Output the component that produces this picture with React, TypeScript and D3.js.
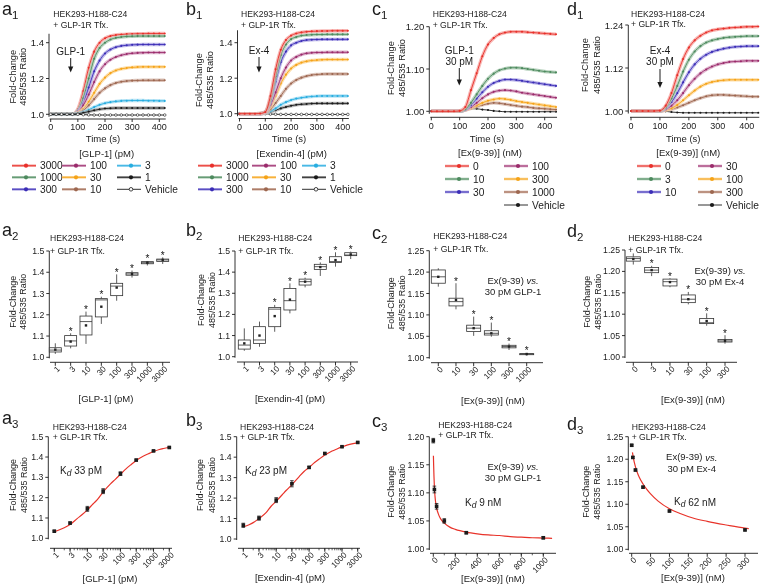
import React from "react";
import * as d3 from "d3";

const FONT = "'Liberation Sans', Arial, Helvetica, sans-serif";
const INK = "#1b1b1b";
const FIT = "#e8332a";

// ---------------- Row 1: kinetic traces ----------------
const timesAB = [0, 20, 40, 60, 80, 100, 120, 140, 160, 180, 200, 220, 240, 260, 280, 300, 320, 340, 360, 380, 400, 420];
const timesCD = [0, 20, 40, 60, 80, 100, 120, 140, 160, 180, 200, 220, 240, 260, 280, 300, 320, 340, 360, 380, 400, 420, 440];

const abDoses = ["3000", "1000", "300", "100", "30", "10", "3", "1", "Vehicle"];
const a1_3000 = [1, 1, 1, 1, 1.001, 1.03, 1.13, 1.26, 1.35, 1.4, 1.425, 1.437, 1.443, 1.446, 1.448, 1.449, 1.45, 1.45, 1.451, 1.451, 1.451, 1.451];
const a1_1000 = [1, 1, 1, 1, 1.001, 1.02, 1.09, 1.2, 1.31, 1.37, 1.4, 1.418, 1.427, 1.432, 1.435, 1.436, 1.437, 1.437, 1.437, 1.437, 1.437, 1.437];
const a1_300 = [1, 1, 1, 1, 1, 1.015, 1.06, 1.15, 1.24, 1.3, 1.34, 1.362, 1.375, 1.382, 1.386, 1.388, 1.389, 1.39, 1.39, 1.39, 1.39, 1.39];
const a1_100 = [1, 1, 1, 1, 1, 1.01, 1.05, 1.11, 1.18, 1.24, 1.28, 1.305, 1.32, 1.33, 1.337, 1.341, 1.343, 1.344, 1.345, 1.345, 1.345, 1.345];
const a1_30 = [1, 1, 1, 1, 1, 1.008, 1.03, 1.07, 1.12, 1.17, 1.205, 1.23, 1.245, 1.254, 1.259, 1.262, 1.264, 1.265, 1.265, 1.265, 1.265, 1.265];
const a1_10 = [1, 1, 1, 1, 1, 1.005, 1.02, 1.05, 1.085, 1.12, 1.145, 1.163, 1.175, 1.182, 1.186, 1.188, 1.189, 1.19, 1.19, 1.19, 1.19, 1.19];
const a1_3 = [1, 1, 1, 1, 1, 1.004, 1.012, 1.025, 1.04, 1.053, 1.062, 1.068, 1.072, 1.075, 1.076, 1.077, 1.077, 1.077, 1.076, 1.076, 1.075, 1.075];
const a1_1 = [1, 1, 1, 1, 1, 1.003, 1.008, 1.015, 1.022, 1.028, 1.032, 1.034, 1.035, 1.035, 1.035, 1.035, 1.035, 1.035, 1.035, 1.035, 1.035, 1.035];
const a1_veh = [1, 1, 1, 1, 1, 1, 0.998, 0.997, 0.996, 0.996, 0.996, 0.996, 0.996, 0.996, 0.996, 0.996, 0.996, 0.996, 0.996, 0.996, 0.996, 0.996];

const b1_3000 = [1, 1, 1, 1, 1.001, 1.01, 1.1, 1.25, 1.36, 1.415, 1.44, 1.452, 1.458, 1.462, 1.464, 1.465, 1.466, 1.466, 1.467, 1.467, 1.467, 1.467];
const b1_1000 = [1, 1, 1, 1, 1.001, 1.01, 1.08, 1.21, 1.33, 1.39, 1.42, 1.432, 1.44, 1.443, 1.445, 1.446, 1.446, 1.447, 1.447, 1.447, 1.447, 1.447];
const b1_300 = [1, 1, 1, 1, 1, 1.01, 1.07, 1.18, 1.29, 1.35, 1.385, 1.4, 1.41, 1.415, 1.417, 1.418, 1.419, 1.419, 1.419, 1.419, 1.419, 1.419];
const b1_100 = [1, 1, 1, 1, 1, 1.008, 1.05, 1.12, 1.2, 1.26, 1.3, 1.32, 1.333, 1.34, 1.343, 1.345, 1.345, 1.346, 1.346, 1.346, 1.346, 1.346];
const b1_30 = [1, 1, 1, 1, 1, 1.008, 1.04, 1.1, 1.17, 1.22, 1.255, 1.275, 1.288, 1.295, 1.3, 1.302, 1.304, 1.305, 1.305, 1.305, 1.305, 1.305];
const b1_10 = [1, 1, 1, 1, 1, 1.005, 1.025, 1.06, 1.1, 1.14, 1.17, 1.19, 1.203, 1.212, 1.218, 1.221, 1.223, 1.224, 1.224, 1.224, 1.224, 1.224];
const b1_3 = [1, 1, 1, 1, 1, 1.005, 1.015, 1.03, 1.05, 1.065, 1.077, 1.085, 1.09, 1.094, 1.097, 1.099, 1.1, 1.1, 1.1, 1.1, 1.1, 1.1];
const b1_1 = [1, 1, 1, 1, 1, 1.003, 1.01, 1.02, 1.03, 1.038, 1.045, 1.05, 1.053, 1.055, 1.057, 1.058, 1.058, 1.058, 1.058, 1.058, 1.058, 1.058];
const b1_veh = [1, 1, 1, 1, 1, 1, 0.998, 0.997, 0.996, 0.996, 0.996, 0.996, 0.996, 0.996, 0.996, 0.996, 0.996, 0.996, 0.996, 0.996, 0.996, 0.996];

const c1Doses = ["0", "10", "30", "100", "300", "1000", "Vehicle"];
const c1_0 = [1, 1, 1, 1, 1, 1.001, 1.01, 1.05, 1.09, 1.13, 1.158, 1.173, 1.182, 1.186, 1.188, 1.188, 1.188, 1.187, 1.186, 1.185, 1.184, 1.183, 1.182];
const c1_10 = [1, 1, 1, 1, 1, 1, 1.005, 1.02, 1.04, 1.06, 1.077, 1.089, 1.097, 1.101, 1.103, 1.103, 1.102, 1.1, 1.098, 1.096, 1.094, 1.093, 1.092];
const c1_30 = [1, 1, 1, 1, 1, 1, 1.004, 1.015, 1.03, 1.045, 1.058, 1.067, 1.072, 1.075, 1.075, 1.074, 1.072, 1.07, 1.068, 1.066, 1.064, 1.062, 1.06];
const c1_100 = [1, 1, 1, 1, 1, 1, 1.003, 1.01, 1.02, 1.031, 1.04, 1.046, 1.049, 1.05, 1.049, 1.047, 1.044, 1.042, 1.04, 1.038, 1.036, 1.034, 1.032];
const c1_300 = [1, 1, 1, 1, 1, 1, 1.003, 1.008, 1.014, 1.02, 1.025, 1.028, 1.03, 1.029, 1.027, 1.024, 1.022, 1.02, 1.018, 1.016, 1.014, 1.012, 1.01];
const c1_1000 = [1, 1, 1, 1, 1, 1, 1.003, 1.007, 1.011, 1.015, 1.018, 1.02, 1.019, 1.017, 1.015, 1.013, 1.011, 1.01, 1.008, 1.007, 1.006, 1.005, 1.004];
const c1_veh = [1, 1, 1, 1, 1, 1.002, 1.005, 1.006, 1.006, 1.004, 1.003, 1.001, 1, 0.999, 0.999, 0.999, 0.999, 0.999, 0.999, 0.999, 0.999, 0.999, 0.999];

const d1Doses = ["0", "3", "10", "30", "100", "300", "Vehicle"];
const d1_0 = [1, 1, 1, 1, 1, 1.001, 1.015, 1.05, 1.1, 1.145, 1.177, 1.197, 1.21, 1.219, 1.225, 1.228, 1.23, 1.232, 1.233, 1.234, 1.235, 1.235, 1.236];
const d1_3 = [1, 1, 1, 1, 1, 1, 1.01, 1.035, 1.07, 1.11, 1.143, 1.166, 1.181, 1.191, 1.197, 1.201, 1.204, 1.206, 1.207, 1.208, 1.209, 1.209, 1.209];
const d1_10 = [1, 1, 1, 1, 1, 1, 1.008, 1.025, 1.05, 1.08, 1.108, 1.13, 1.146, 1.157, 1.165, 1.17, 1.174, 1.177, 1.179, 1.18, 1.181, 1.181, 1.181];
const d1_30 = [1, 1, 1, 1, 1, 1, 1.005, 1.015, 1.03, 1.05, 1.072, 1.09, 1.105, 1.116, 1.124, 1.13, 1.134, 1.137, 1.138, 1.139, 1.14, 1.14, 1.14];
const d1_100 = [1, 1, 1, 1, 1, 1, 1.003, 1.008, 1.017, 1.03, 1.044, 1.057, 1.068, 1.076, 1.081, 1.084, 1.086, 1.087, 1.087, 1.087, 1.087, 1.087, 1.087];
const d1_300 = [1, 1, 1, 1, 1, 1, 1.002, 1.005, 1.01, 1.016, 1.023, 1.03, 1.036, 1.041, 1.044, 1.045, 1.045, 1.044, 1.043, 1.042, 1.041, 1.04, 1.04];
const d1_veh = [1, 1, 1, 1, 1, 1, 0.999, 0.997, 0.996, 0.995, 0.995, 0.995, 0.995, 0.995, 0.995, 0.995, 0.995, 0.995, 0.995, 0.995, 0.995, 0.995, 0.995];

const lineColors = ["#e8302a", "#4d8a5e", "#3b2db6", "#9a2b6b", "#f5a318", "#9d6750", "#27ade0", "#1a1a1a"];
const bandColors = ["#f6a5a1", "#abcab3", "#aba4e3", "#d8a5c3", "#fcd694", "#d5b7aa", "#a6ddf3", "#a8a8a8"];

// ---------------- Row 2: box plots ----------------
const a2Cats = ["1", "3", "10", "30", "100", "300", "1000", "3000"];
const a2Lo = [1.016, 1.042, 1.063, 1.157, 1.266, 1.375, 1.432, 1.439];
const a2Q1 = [1.025, 1.053, 1.105, 1.19, 1.29, 1.386, 1.44, 1.451];
const a2Med = [1.034, 1.077, 1.168, 1.27, 1.335, 1.392, 1.445, 1.458];
const a2Q3 = [1.045, 1.102, 1.194, 1.276, 1.348, 1.398, 1.45, 1.462];
const a2Hi = [1.066, 1.113, 1.215, 1.285, 1.39, 1.408, 1.453, 1.47];
const a2Mean = [1.036, 1.074, 1.15, 1.238, 1.328, 1.392, 1.445, 1.458];
const a2Star = [0, 1, 1, 1, 1, 1, 1, 1];

const b2Cats = ["1", "3", "10", "30", "100", "300", "1000", "3000"];
const b2Lo = [1.028, 1.047, 1.118, 1.205, 1.328, 1.382, 1.426, 1.462];
const b2Q1 = [1.036, 1.063, 1.142, 1.221, 1.339, 1.413, 1.446, 1.478];
const b2Med = [1.055, 1.079, 1.225, 1.265, 1.355, 1.426, 1.45, 1.481];
const b2Q3 = [1.079, 1.142, 1.233, 1.323, 1.367, 1.437, 1.473, 1.492];
const b2Hi = [1.134, 1.166, 1.245, 1.347, 1.374, 1.446, 1.494, 1.497];
const b2Mean = [1.063, 1.1, 1.192, 1.27, 1.355, 1.424, 1.457, 1.484];
const b2Star = [0, 0, 1, 1, 1, 1, 1, 1];

const c2Cats = ["0", "10", "30", "100", "300", "1000"];
const c2Lo = [1.166, 1.113, 1.051, 1.049, 1.018, 1.005];
const c2Q1 = [1.174, 1.121, 1.061, 1.053, 1.023, 1.007];
const c2Med = [1.189, 1.131, 1.069, 1.057, 1.026, 1.0086];
const c2Q3 = [1.205, 1.139, 1.076, 1.063, 1.029, 1.0095];
const c2Hi = [1.209, 1.174, 1.096, 1.082, 1.033, 1.011];
const c2Mean = [1.189, 1.135, 1.069, 1.057, 1.026, 1.0086];
const c2Star = [0, 1, 1, 1, 1, 1];

const d2Cats = ["0", "3", "10", "30", "100", "300"];
const d2Lo = [1.216, 1.189, 1.163, 1.123, 1.073, 1.031];
const d2Q1 = [1.224, 1.197, 1.166, 1.127, 1.078, 1.035];
const d2Med = [1.23, 1.203, 1.176, 1.135, 1.08, 1.0375];
const d2Q3 = [1.234, 1.209, 1.182, 1.145, 1.09, 1.041];
const d2Hi = [1.242, 1.213, 1.184, 1.152, 1.102, 1.051];
const d2Mean = [1.229, 1.203, 1.175, 1.135, 1.084, 1.038];
const d2Star = [0, 1, 1, 1, 1, 1];

// ---------------- Row 3: dose-response ----------------
const a3X = [1, 3, 10, 30, 100, 300, 1000, 3000];
const a3Y = [1.035, 1.075, 1.145, 1.232, 1.318, 1.385, 1.43, 1.447];
const a3Err = [0.004, 0.005, 0.012, 0.012, 0.009, 0.004, 0.003, 0.003];
const a3FitX = [1, 1.5, 2, 3, 5, 7, 10, 15, 20, 30, 50, 70, 100, 150, 200, 300, 500, 700, 1000, 1500, 2000, 3000];
const a3FitY = [1.032, 1.043, 1.052, 1.068, 1.098, 1.117, 1.14, 1.17, 1.19, 1.228, 1.268, 1.29, 1.315, 1.343, 1.36, 1.383, 1.405, 1.416, 1.427, 1.437, 1.442, 1.448];

const b3X = [1, 3, 10, 30, 100, 300, 1000, 3000];
const b3Y = [1.067, 1.102, 1.19, 1.27, 1.35, 1.418, 1.451, 1.472];
const b3Err = [0.01, 0.01, 0.012, 0.015, 0.005, 0.004, 0.003, 0.003];
const b3FitX = [1, 1.5, 2, 3, 5, 7, 10, 15, 20, 30, 50, 70, 100, 150, 200, 300, 500, 700, 1000, 1500, 2000, 3000];
const b3FitY = [1.06, 1.07, 1.08, 1.1, 1.13, 1.16, 1.185, 1.215, 1.237, 1.265, 1.305, 1.33, 1.35, 1.375, 1.39, 1.41, 1.43, 1.44, 1.45, 1.46, 1.465, 1.47];

const c3X = [0, 10, 30, 100, 300, 1000];
const c3Y = [1.193, 1.106, 1.076, 1.05, 1.029, 1.02];
const c3Err = [0.004, 0.006, 0.005, 0.004, 0.002, 0.002];
const c3FitX = [1, 3, 6, 10, 15, 20, 30, 45, 60, 80, 100, 150, 200, 300, 400, 500, 600, 700, 800, 900, 1000, 1080];
const c3FitY = [1.166, 1.15, 1.13, 1.11, 1.095, 1.085, 1.073, 1.063, 1.056, 1.05, 1.046, 1.039, 1.035, 1.03, 1.027, 1.025, 1.024, 1.022, 1.021, 1.02, 1.0195, 1.019];

const d3X = [0, 3, 10, 30, 100, 300];
const d3Y = [1.231, 1.204, 1.176, 1.138, 1.085, 1.043];
const d3Err = [0.002, 0.002, 0.002, 0.002, 0.002, 0.002];
const d3FitX = [2, 5, 10, 15, 20, 30, 40, 50, 70, 100, 130, 160, 200, 250, 300, 310];
const d3FitY = [1.215, 1.2, 1.183, 1.17, 1.16, 1.145, 1.133, 1.123, 1.107, 1.09, 1.079, 1.07, 1.062, 1.054, 1.047, 1.046];

// ---------------- helpers ----------------
const fmt1 = d3.format(".1f");
const fmt2 = d3.format(".2f");

function T(props: any) {
  const { children, size = 9.5, anchor = "start", ...rest } = props;
  return (
    <text fontFamily={FONT} fontSize={size} textAnchor={anchor} dominantBaseline="central" fill={INK} {...rest}>
      {children}
    </text>
  );
}

function PanelLabel({ x, y, letter, sub }: any) {
  return (
    <text x={x} y={y} fontFamily={FONT} fontSize={18} fill={INK}>
      {letter}
      <tspan fontSize={11.5} dy={4}>{sub}</tspan>
    </text>
  );
}

function Header({ x, y, gap = 10.5 }: any) {
  return (
    <g>
      <T x={x} y={y} size={8.6}>HEK293-H188-C24</T>
      <T x={x} y={y + gap} size={8.6}>+ GLP-1R Tfx.</T>
    </g>
  );
}

function YTitle({ x1, x2, y, size = 9.3 }: any) {
  return (
    <g>
      <T x={0} y={0} size={size} anchor="middle" transform={`translate(${x1},${y}) rotate(-90)`}>Fold-Change</T>
      <T x={0} y={0} size={size} anchor="middle" transform={`translate(${x2},${y}) rotate(-90)`}>485/535 Ratio</T>
    </g>
  );
}

function YAxis({ scale, x, ticks, fmt, top, bottom, size = 9.5 }: any) {
  return (
    <g>
      <line x1={x} x2={x} y1={top} y2={bottom} stroke={INK} strokeWidth={0.9} />
      {ticks.map((t: number) => (
        <g key={t}>
          <line x1={x - 3} x2={x} y1={scale(t)} y2={scale(t)} stroke={INK} strokeWidth={0.9} />
          <T x={x - 5} y={scale(t)} size={size} anchor="end">{fmt(t)}</T>
        </g>
      ))}
    </g>
  );
}

function RotTicks({ items, y, left, right, size = 8.2, minor = [] }: any) {
  return (
    <g>
      <line x1={left} x2={right} y1={y} y2={y} stroke={INK} strokeWidth={0.9} />
      {minor.map((mx: number, i: number) => (
        <line key={"m" + i} x1={mx} x2={mx} y1={y} y2={y + 2} stroke={INK} strokeWidth={0.7} />
      ))}
      {items.map((it: any, i: number) => (
        <g key={i}>
          <line x1={it.x} x2={it.x} y1={y} y2={y + 3.5} stroke={INK} strokeWidth={0.9} />
          <text
            fontFamily={FONT}
            fontSize={size}
            fill={INK}
            textAnchor="end"
            transform={`translate(${it.x + 3.5},${y + 5.5}) rotate(-45)`}
            dominantBaseline="central"
          >
            {it.label}
          </text>
        </g>
      ))}
    </g>
  );
}

// ---------------- Row 1 panel ----------------
function Kinetic(p: any) {
  const xs = d3.scaleLinear().domain([0, 400]).range([p.x0, p.x400]);
  const ys = d3.scaleLinear().domain([1, p.vRef]).range([p.p1, p.pRef]);
  const times: number[] = p.times;
  const line = d3
    .line<number>()
    .x((_, i) => xs(times[i]))
    .y((v) => ys(v))
    .curve(d3.curveMonotoneX);
  const idx = p.series.map((_: any, i: number) => i);
  const order = p.vehicleTop ? idx : [...idx].reverse();
  const tEnd = times[times.length - 1];
  return (
    <g>
      <PanelLabel x={p.lx} y={p.ly} letter={p.letter} sub="1" />
      <Header x={p.hx} y={p.hy} />
      <YTitle x1={p.yt1} x2={p.yt2} y={p.ytY} />
      <YAxis scale={ys} x={p.yAxisX} ticks={p.yTicks} fmt={p.yFmt} top={ys(p.vTop)} bottom={ys(1) + 2.5} />
      <line x1={p.x0 - 1} x2={xs(tEnd) + 1} y1={p.xAxisY} y2={p.xAxisY} stroke={INK} strokeWidth={0.9} />
      {[0, 100, 200, 300, 400].map((t) => (
        <g key={t}>
          <line x1={xs(t)} x2={xs(t)} y1={p.xAxisY} y2={p.xAxisY + 3} stroke={INK} strokeWidth={0.9} />
          <T x={xs(t)} y={p.xAxisY + 8.3} anchor="middle" size={9}>{t}</T>
        </g>
      ))}
      <T x={p.tx} y={p.ty1} anchor="middle">Time (s)</T>
      <T x={p.tx2} y={p.ty2} anchor="middle">{p.title2}</T>
      {order.map((i: number) => {
        const s = p.series[i];
        const ci = p.colorIdx[i];
        const isVeh = p.doses[i] === "Vehicle";
        const col = lineColors[ci];
        return (
          <g key={i}>
            {!isVeh && <path d={line(s) || ""} fill="none" stroke={bandColors[ci]} strokeWidth={3.4} strokeOpacity={0.8} />}
            <path d={line(s) || ""} fill="none" stroke={col} strokeWidth={0.9} />
            {s.map((v: number, j: number) =>
              isVeh && p.openVehicle ? (
                <circle key={j} cx={xs(times[j])} cy={ys(v)} r={1.3} fill="#fff" stroke={col} strokeWidth={0.6} />
              ) : (
                <circle key={j} cx={xs(times[j])} cy={ys(v)} r={1.05} fill={col} />
              )
            )}
          </g>
        );
      })}
      {p.arrowText.map((s: string, k: number) => (
        <T key={k} x={p.ax} y={p.aty + k * 11} anchor="middle" size={10}>{s}</T>
      ))}
      <line x1={p.ax} x2={p.ax} y1={p.ay1} y2={p.ay2 - 5} stroke={INK} strokeWidth={1} />
      <path d={`M${p.ax - 2.6},${p.ay2 - 6} L${p.ax + 2.6},${p.ay2 - 6} L${p.ax},${p.ay2} Z`} fill={INK} />
      {p.doses.map((d: string, i: number) => {
        const [c, r] = p.legPos(i);
        const lx = p.legCols[c];
        const ly = p.legRows[r];
        const ci = p.colorIdx[i];
        const isVeh = d === "Vehicle";
        const col = lineColors[ci];
        return (
          <g key={"l" + i}>
            {!isVeh && <line x1={lx} x2={lx + 24} y1={ly} y2={ly} stroke={bandColors[ci]} strokeWidth={2.6} />}
            <line x1={lx} x2={lx + 24} y1={ly} y2={ly} stroke={col} strokeWidth={0.9} />
            {isVeh && p.openVehicle ? (
              <circle cx={lx + 14} cy={ly} r={1.8} fill="#fff" stroke={col} strokeWidth={0.8} />
            ) : (
              <circle cx={lx + 14} cy={ly} r={2.1} fill={col} />
            )}
            <T x={lx + 28} y={ly} size={10.2}>{d}</T>
          </g>
        );
      })}
    </g>
  );
}

// ---------------- Row 2 panel ----------------
function BoxPanel(p: any) {
  const xs = d3.scalePoint<string>().domain(p.cats).range([p.c0, p.c1]);
  const ys = d3.scaleLinear().domain([1, p.vRef]).range([p.p1, p.pRef]);
  const w = p.bw;
  return (
    <g>
      <PanelLabel x={p.lx} y={p.ly} letter={p.letter} sub="2" />
      <Header x={p.hx} y={p.hy} gap={12.5} />
      <YTitle x1={p.yt1} x2={p.yt2} y={p.ytY} size={9} />
      <YAxis scale={ys} x={p.yAxisX} ticks={p.yTicks} fmt={p.yFmt} top={ys(p.vRef)} bottom={ys(1) + 1} size={8.7} />
      <RotTicks items={p.cats.map((c: string) => ({ x: xs(c), label: c }))} y={p.xAxisY} left={p.axL} right={p.axR} />
      <T x={p.tx} y={p.ty} anchor="middle">{p.title}</T>
      {p.cats.map((c: string, i: number) => {
        const cx = xs(c) as number;
        return (
          <g key={c} stroke="#333" strokeWidth={0.8}>
            <line x1={cx} x2={cx} y1={ys(p.hi[i])} y2={ys(p.q3[i])} />
            <line x1={cx} x2={cx} y1={ys(p.q1[i])} y2={ys(p.lo[i])} />
            <rect x={cx - w / 2} y={ys(p.q3[i])} width={w} height={Math.max(0.8, ys(p.q1[i]) - ys(p.q3[i]))} fill="#fff" />
            <line x1={cx - w / 2} x2={cx + w / 2} y1={ys(p.med[i])} y2={ys(p.med[i])} />
            <rect x={cx - 1.2} y={ys(p.mean[i]) - 1.2} width={2.4} height={2.4} fill="#222" stroke="none" />
            {p.star[i] ? (
              <text x={cx} y={ys(p.hi[i]) + 1.5} fontFamily={FONT} fontSize={10} textAnchor="middle" fill="#111" stroke="none">*</text>
            ) : null}
          </g>
        );
      })}
      {p.note && (
        <g>
          <T x={p.nx} y={p.ny} anchor="middle">
            Ex(9-39) <tspan fontStyle="italic">vs.</tspan>
          </T>
          <T x={p.nx} y={p.ny + 11.5} anchor="middle">{p.note}</T>
        </g>
      )}
    </g>
  );
}

// ---------------- Row 3 panel ----------------
function DosePanel(p: any) {
  const xs: any = p.log
    ? d3.scaleLog().domain([1, 3000]).range([p.x1, p.x2])
    : d3.scaleLinear().domain([p.d0, p.d1]).range([p.x1, p.x2]);
  const ys = d3.scaleLinear().domain([1, p.vRef]).range([p.p1, p.pRef]);
  const fit = d3
    .line<number>()
    .x((v) => xs(v))
    .y((_, i) => ys(p.fitY[i]))
    .curve(d3.curveMonotoneX);
  const minor: number[] = [];
  if (p.log) {
    [1, 10, 100, 1000].forEach((k) => {
      for (let m = 1; m <= 9; m++) {
        const v = m * k;
        if (v <= 3000) minor.push(xs(v));
      }
    });
  } else if (p.minorStep) {
    for (let v = p.minorStart; v <= p.minorEnd; v += p.minorStep) minor.push(xs(v));
  }
  return (
    <g>
      <PanelLabel x={p.lx} y={p.ly} letter={p.letter} sub="3" />
      <Header x={p.hx} y={p.hy} gap={10.3} />
      <YTitle x1={p.yt1} x2={p.yt2} y={p.ytY} size={9} />
      <YAxis scale={ys} x={p.yAxisX} ticks={p.yTicks} fmt={p.yFmt} top={ys(p.yTicks[p.yTicks.length - 1])} bottom={ys(1) + 1} size={8.7} />
      <RotTicks items={p.xTicks.map((v: number) => ({ x: xs(v), label: String(v) }))} y={p.xAxisY} left={p.axL} right={p.axR} minor={minor} />
      <T x={p.tx} y={p.ty} anchor="middle">{p.title}</T>
      <path d={fit(p.fitX) || ""} fill="none" stroke={FIT} strokeWidth={1.2} />
      {p.xv.map((v: number, i: number) => {
        const cx = xs(v);
        const cy = ys(p.yv[i]);
        const e1 = ys(p.yv[i] + p.err[i]);
        const e2 = ys(p.yv[i] - p.err[i]);
        return (
          <g key={i}>
            <line x1={cx} x2={cx} y1={e1} y2={e2} stroke={INK} strokeWidth={0.9} />
            <line x1={cx - 1.8} x2={cx + 1.8} y1={e1} y2={e1} stroke={INK} strokeWidth={0.8} />
            <line x1={cx - 1.8} x2={cx + 1.8} y1={e2} y2={e2} stroke={INK} strokeWidth={0.8} />
            <rect x={cx - 1.8} y={cy - 1.8} width={3.6} height={3.6} fill={INK} />
          </g>
        );
      })}
      <T x={p.kx} y={p.ky} size={10}>
        K<tspan fontSize={8.5} fontStyle="italic" dy={2.5}>d</tspan>
        <tspan dy={-2.5}> {p.kd}</tspan>
      </T>
      {p.note && (
        <g>
          <T x={p.nx} y={p.ny} anchor="middle">
            Ex(9-39) <tspan fontStyle="italic">vs.</tspan>
          </T>
          <T x={p.nx} y={p.ny + 11.5} anchor="middle">{p.note}</T>
        </g>
      )}
    </g>
  );
}

export default function App() {
  const abPos = (i: number) => [Math.floor(i / 3), i % 3];
  const cdPos = (i: number) => (i < 3 ? [0, i] : [1, i - 3]);
  const abColors = [0, 1, 2, 3, 4, 5, 6, 7, 7];
  const cdColors = [0, 1, 2, 3, 4, 5, 7];
  const ticks14 = [1.0, 1.2, 1.4];
  return (
    <svg width={760} height={588} style={{ position: "absolute", left: 0, top: 0, background: "#fff" }}>
      <rect width={760} height={588} fill="#fff" />
      <g opacity={0.999}>
      {/* ---------- Row 1 ---------- */}
      <Kinetic
        letter="a" lx={2} ly={15} hx={53.3} hy={14}
        times={timesAB} series={[a1_3000, a1_1000, a1_300, a1_100, a1_30, a1_10, a1_3, a1_1, a1_veh]}
        doses={abDoses} colorIdx={abColors} vehicleTop openVehicle
        x0={50.7} x400={159.3} vRef={1.4} p1={114.3} pRef={42.7} vTop={1.45}
        yTicks={ticks14} yFmt={fmt1} yAxisX={49} xAxisY={119}
        yt1={13.3} yt2={23.3} ytY={76.7}
        tx={103} ty1={138.3} tx2={106.7} ty2={153} title2="[GLP-1] (pM)"
        arrowText={["GLP-1"]} ax={70.7} aty={51.5} ay1={58} ay2={72.5}
        legPos={abPos} legCols={[12, 62, 117]} legRows={[165.7, 177.3, 189.3]}
      />
      <Kinetic
        letter="b" lx={186} ly={15} hx={241} hy={14}
        times={timesAB} series={[b1_3000, b1_1000, b1_300, b1_100, b1_30, b1_10, b1_3, b1_1, b1_veh]}
        doses={abDoses} colorIdx={abColors} openVehicle
        x0={239.5} x400={342.7} vRef={1.4} p1={113.7} pRef={42.7} vTop={1.47}
        yTicks={ticks14} yFmt={fmt1} yAxisX={237.5} xAxisY={118.5}
        yt1={199} yt2={210} ytY={80}
        tx={289} ty1={138.3} tx2={291.7} ty2={153} title2="[Exendin-4] (pM)"
        arrowText={["Ex-4"]} ax={259} aty={50} ay1={57} ay2={72.5}
        legPos={abPos} legCols={[198, 252, 302]} legRows={[165.7, 177.3, 189.3]}
      />
      <Kinetic
        letter="c" lx={372} ly={15} hx={432.7} hy={14}
        times={timesCD} series={[c1_0, c1_10, c1_30, c1_100, c1_300, c1_1000, c1_veh]}
        doses={c1Doses} colorIdx={cdColors}
        x0={431.3} x400={544.7} vRef={1.2} p1={111.3} pRef={26.7} vTop={1.2}
        yTicks={[1.0, 1.1, 1.2]} yFmt={fmt2} yAxisX={429.3} xAxisY={117.3}
        yt1={390.7} yt2={401.7} ytY={68}
        tx={487} ty1={138.3} tx2={490} ty2={152.7} title2="[Ex(9-39)] (nM)"
        arrowText={["GLP-1", "30 pM"]} ax={459.3} aty={50.7} ay1={68} ay2={85.5}
        legPos={cdPos} legCols={[445, 504]} legRows={[166, 179, 192, 205]}
      />
      <Kinetic
        letter="d" lx={567} ly={15} hx={631} hy={13.5}
        times={timesCD} series={[d1_0, d1_3, d1_10, d1_30, d1_100, d1_300, d1_veh]}
        doses={d1Doses} colorIdx={cdColors}
        x0={631} x400={746.7} vRef={1.24} p1={111} pRef={25} vTop={1.24}
        yTicks={[1.0, 1.12, 1.24]} yFmt={fmt2} yAxisX={628.3} xAxisY={117.3}
        yt1={585} yt2={596.7} ytY={65}
        tx={683.3} ty1={138.3} tx2={688.3} ty2={152.7} title2="[Ex(9-39)] (nM)"
        arrowText={["Ex-4", "30 pM"]} ax={660} aty={50.7} ay1={69} ay2={88}
        legPos={cdPos} legCols={[637, 698]} legRows={[166, 179, 192, 205]}
      />

      {/* ---------- Row 2 ---------- */}
      <BoxPanel
        letter="a" lx={2} ly={236} hx={50} hy={238.3}
        cats={a2Cats} lo={a2Lo} q1={a2Q1} med={a2Med} q3={a2Q3} hi={a2Hi} mean={a2Mean} star={a2Star}
        c0={55.3} c1={162.7} bw={12} vRef={1.5} p1={357.3} pRef={251}
        yTicks={[1.0, 1.1, 1.2, 1.3, 1.4, 1.5]} yFmt={fmt1} yAxisX={49.3} xAxisY={362.3} axL={50} axR={170}
        yt1={13.3} yt2={23.3} ytY={301.7} tx={106} ty={398} title="[GLP-1] (pM)"
      />
      <BoxPanel
        letter="b" lx={186} ly={236} hx={238.3} hy={238.3}
        cats={b2Cats} lo={b2Lo} q1={b2Q1} med={b2Med} q3={b2Q3} hi={b2Hi} mean={b2Mean} star={b2Star}
        c0={244.3} c1={350.7} bw={12} vRef={1.5} p1={356.7} pRef={251}
        yTicks={[1.0, 1.1, 1.2, 1.3, 1.4, 1.5]} yFmt={fmt1} yAxisX={235} xAxisY={362} axL={237} axR={358}
        yt1={201} yt2={211.7} ytY={300} tx={290} ty={398} title="[Exendin-4] (pM)"
      />
      <BoxPanel
        letter="c" lx={372} ly={239} hx={433.3} hy={236}
        cats={c2Cats} lo={c2Lo} q1={c2Q1} med={c2Med} q3={c2Q3} hi={c2Hi} mean={c2Mean} star={c2Star}
        c0={438.3} c1={526.7} bw={14} vRef={1.25} p1={357.7} pRef={250.7}
        yTicks={[1.0, 1.05, 1.1, 1.15, 1.2, 1.25]} yFmt={fmt2} yAxisX={429.3} xAxisY={362.7} axL={431} axR={543}
        yt1={390.7} yt2={401.7} ytY={303.3} tx={493} ty={400} title="[Ex(9-39)] (nM)"
        note="30 pM GLP-1" nx={513} ny={280}
      />
      <BoxPanel
        letter="d" lx={567} ly={237} hx={628.3} hy={237.7}
        cats={d2Cats} lo={d2Lo} q1={d2Q1} med={d2Med} q3={d2Q3} hi={d2Hi} mean={d2Mean} star={d2Star}
        c0={633.3} c1={725} bw={14} vRef={1.25} p1={357} pRef={250}
        yTicks={[1.0, 1.05, 1.1, 1.15, 1.2, 1.25]} yFmt={fmt2} yAxisX={625} xAxisY={362.3} axL={626} axR={737}
        yt1={586.7} yt2={597.7} ytY={301.7} tx={693} ty={399} title="[Ex(9-39)] (nM)"
        note="30 pM Ex-4" nx={720} ny={270}
      />

      {/* ---------- Row 3 ---------- */}
      <DosePanel
        letter="a" lx={2} ly={424} hx={52.7} hy={426.7} log
        x1={54.3} x2={169.3} vRef={1.5} p1={538.3} pRef={436.7}
        xv={a3X} yv={a3Y} err={a3Err} fitX={a3FitX} fitY={a3FitY}
        xTicks={[1, 3, 10, 30, 100, 300, 1000, 3000]}
        yTicks={[1.0, 1.1, 1.2, 1.3, 1.4, 1.5]} yFmt={fmt1} yAxisX={48.3} xAxisY={548.3} axL={50} axR={172}
        yt1={13.3} yt2={24} ytY={485} tx={110} ty={578} title="[GLP-1] (pM)"
        kx={60} ky={470} kd="33 pM"
      />
      <DosePanel
        letter="b" lx={186} ly={426} hx={240} hy={426.7} log
        x1={243.3} x2={357.7} vRef={1.5} p1={539} pRef={436.7}
        xv={b3X} yv={b3Y} err={b3Err} fitX={b3FitX} fitY={b3FitY}
        xTicks={[1, 3, 10, 30, 100, 300, 1000, 3000]}
        yTicks={[1.0, 1.1, 1.2, 1.3, 1.4, 1.5]} yFmt={fmt1} yAxisX={236.7} xAxisY={548.3} axL={238} axR={360}
        yt1={200} yt2={211.7} ytY={485} tx={290} ty={577.5} title="[Exendin-4] (pM)"
        kx={245} ky={470} kd="23 pM"
      />
      <DosePanel
        letter="c" lx={372} ly={427} hx={438.3} hy={425}
        d0={0} d1={1000} x1={433.3} x2={543.3} vRef={1.2} p1={549} pRef={436.7}
        xv={c3X} yv={c3Y} err={c3Err} fitX={c3FitX} fitY={c3FitY}
        xTicks={[0, 200, 400, 600, 800, 1000]} minorStep={100} minorStart={100} minorEnd={1000}
        yTicks={[1.0, 1.05, 1.1, 1.15, 1.2]} yFmt={fmt2} yAxisX={429.3} xAxisY={553.3} axL={430} axR={556}
        yt1={390.7} yt2={401.7} ytY={491.7} tx={493} ty={578} title="[Ex(9-39)] (nM)"
        kx={465} ky={502} kd="9 nM" note="30 pM GLP-1" nx={513} ny={466}
      />
      <DosePanel
        letter="d" lx={567} ly={430} hx={631.7} hy={426.7}
        d0={0} d1={300} x1={631.7} x2={745} vRef={1.25} p1={549.3} pRef={436.7}
        xv={d3X} yv={d3Y} err={d3Err} fitX={d3FitX} fitY={d3FitY}
        xTicks={[0, 50, 100, 150, 200, 250, 300]}
        yTicks={[1.0, 1.05, 1.1, 1.15, 1.2, 1.25]} yFmt={fmt2} yAxisX={628.3} xAxisY={553.3} axL={629} axR={758}
        yt1={585.7} yt2={596.7} ytY={491.7} tx={693} ty={577.5} title="[Ex(9-39)] (nM)"
        kx={674} ky={501.7} kd="62 nM" note="30 pM Ex-4" nx={691.7} ny={456.7}
      />
      </g>
    </svg>
  );
}
